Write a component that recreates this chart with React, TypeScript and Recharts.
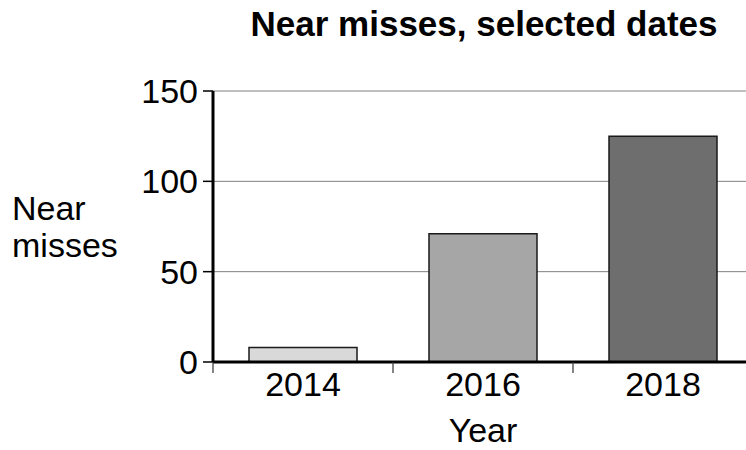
import React from 'react';
import { BarChart, Bar, XAxis, YAxis, CartesianGrid, Cell, Label } from 'recharts';

const years = ['2014', '2016', '2018'];
const nearMisses = [8, 71, 125];
const yTicks = [0, 50, 100, 150];
const barColors = ['#d9d9d9', '#a6a6a6', '#6e6e6e'];

const chartData = years.map((year, i) => ({ year, value: nearMisses[i] }));

const FONT = '"Liberation Sans", Arial, sans-serif';

// category label centred, small tick line on the left edge of each band
const YearTick = (props: any) => {
  const { x, y, payload } = props;
  const half = payload?.offset ?? 0;
  return (
    <g>
      <line x1={x - half} x2={x - half} y1={y} y2={y + 11} stroke="#333" strokeWidth={1.2} />
      <text x={x} y={y + 34} textAnchor="middle" fontSize={34} fontFamily={FONT} fill="#000">
        {payload.value}
      </text>
    </g>
  );
};

const App: React.FC = () => (
  <div
    style={{
      position: 'fixed',
      left: 0,
      top: 0,
      width: 746,
      height: 450,
      overflow: 'hidden',
      background: '#fff',
    }}
  >
    <div
      style={{
        position: 'absolute',
        left: 184,
        top: 6,
        width: 600,
        textAlign: 'center',
        fontFamily: FONT,
        fontWeight: 'bold',
        fontSize: 35,
        lineHeight: '35px',
        color: '#000',
      }}
    >
      Near misses, selected dates
    </div>
    <BarChart
      width={761}
      height={450}
      data={chartData}
      margin={{ top: 91, right: 8, bottom: 0, left: 0 }}
      barCategoryGap="20%"
    >
      <CartesianGrid vertical={false} stroke="#808080" strokeWidth={1} />
      <XAxis
        dataKey="year"
        height={88}
        axisLine={{ stroke: '#000', strokeWidth: 3 }}
        tickLine={false}
        tickSize={0}
        tickMargin={0}
        tick={<YearTick />}
        interval={0}
      >
        <Label
          content={(p: any) => (
            <text
              x={p.viewBox.x + p.viewBox.width / 2}
              y={442}
              textAnchor="middle"
              fontSize={34}
              fontFamily={FONT}
              fill="#000"
            >
              Year
            </text>
          )}
        />
      </XAxis>
      <YAxis
        width={213}
        domain={[0, 150]}
        ticks={yTicks}
        interval={0}
        axisLine={{ stroke: '#000', strokeWidth: 3 }}
        tickLine={{ stroke: '#000', strokeWidth: 1.5 }}
        tickSize={10}
        tickMargin={5}
        tick={{ fontSize: 34, fontFamily: FONT, fill: '#000' }}
      >
        <Label
          content={() => (
            <text fontSize={34} fontFamily={FONT} fill="#000">
              <tspan x={12} y={220}>Near</tspan>
              <tspan x={12} y={257}>misses</tspan>
            </text>
          )}
        />
      </YAxis>
      <Bar dataKey="value" isAnimationActive={false} stroke="#1a1a1a" strokeWidth={1.5}>
        {chartData.map((d, i) => (
          <Cell key={d.year} fill={barColors[i]} />
        ))}
      </Bar>
    </BarChart>
  </div>
);

export default App;
